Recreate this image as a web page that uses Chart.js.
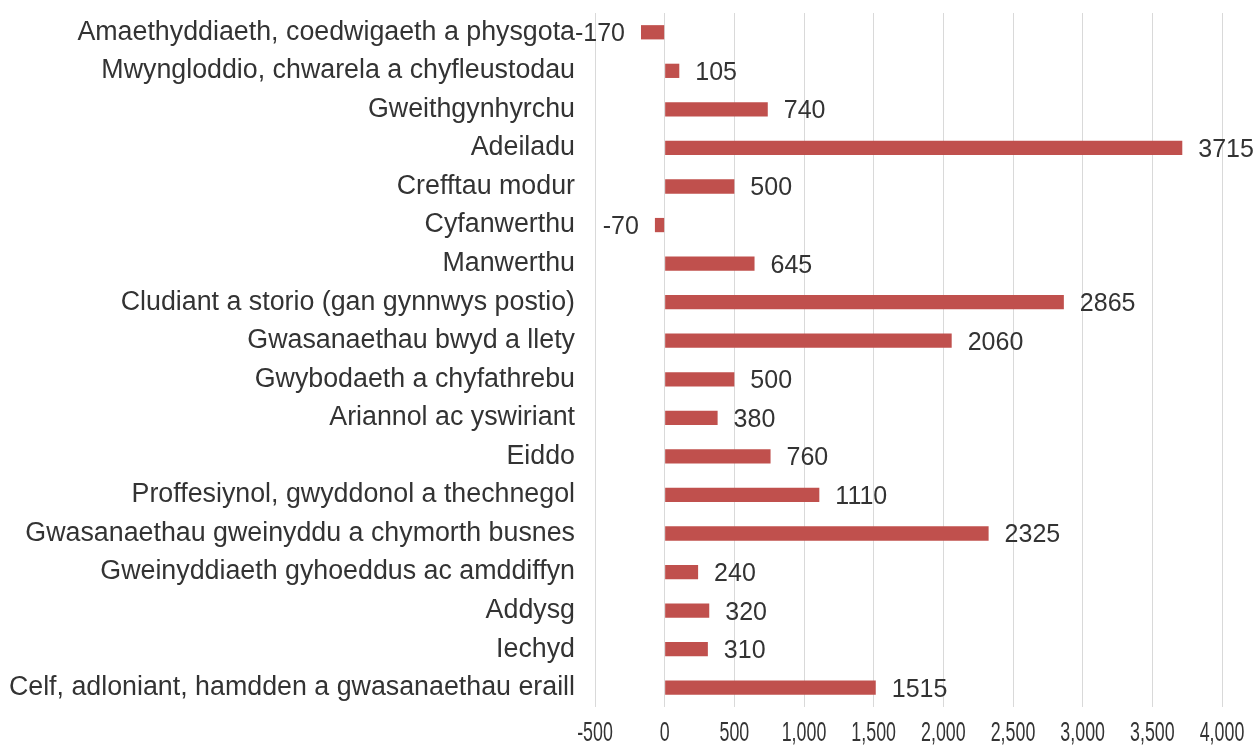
<!DOCTYPE html>
<html>
<head>
<meta charset="utf-8">
<script src="https://cdn.jsdelivr.net/npm/chart.js@4"></script>
<style>
html,body{margin:0;padding:0;background:#fff;}
#wrap{width:1259px;height:747px;}
</style>
</head>
<body>
<div id="wrap"><canvas id="c" width="1259" height="747"></canvas></div>
<script>
const categories = [
  "Amaethyddiaeth, coedwigaeth a physgota",
  "Mwyngloddio, chwarela a chyfleustodau",
  "Gweithgynhyrchu",
  "Adeiladu",
  "Crefftau modur",
  "Cyfanwerthu",
  "Manwerthu",
  "Cludiant a storio (gan gynnwys postio)",
  "Gwasanaethau bwyd a llety",
  "Gwybodaeth a chyfathrebu",
  "Ariannol ac yswiriant",
  "Eiddo",
  "Proffesiynol, gwyddonol a thechnegol",
  "Gwasanaethau gweinyddu a chymorth busnes",
  "Gweinyddiaeth gyhoeddus ac amddiffyn",
  "Addysg",
  "Iechyd",
  "Celf, adloniant, hamdden a gwasanaethau eraill"
];
const values = [-170, 105, 740, 3715, 500, -70, 645, 2865, 2060, 500, 380, 760, 1110, 2325, 240, 320, 310, 1515];
const xTickValues = [-500, 0, 500, 1000, 1500, 2000, 2500, 3000, 3500, 4000];
const xTickLabels = ["-500", "0", "500", "1,000", "1,500", "2,000", "2,500", "3,000", "3,500", "4,000"];

const textColor = '#333333';

const customText = {
  id: 'customText',
  afterDatasetsDraw(chart) {
    const ctx = chart.ctx;
    const xs = chart.scales.x;
    const meta = chart.getDatasetMeta(0);
    ctx.save();
    ctx.fillStyle = textColor;
    ctx.font = '25px "Liberation Sans", Arial, sans-serif';
    ctx.textBaseline = 'middle';
    meta.data.forEach((bar, i) => {
      const v = values[i];
      const t = String(v);
      if (v >= 0) {
        ctx.textAlign = 'left';
        ctx.fillText(t, bar.x + 16, bar.y + 2);
      } else {
        ctx.textAlign = 'right';
        ctx.fillText(t, bar.x - 16, bar.y + 2);
      }
    });
    // x tick labels (horizontally condensed)
    ctx.font = '27px "Liberation Sans", Arial, sans-serif';
    ctx.textAlign = 'center';
    const sx = 0.66;
    xTickValues.forEach((v, i) => {
      const px = xs.getPixelForValue(v);
      ctx.save();
      ctx.translate(px, 734);
      ctx.scale(sx, 1);
      ctx.fillText(xTickLabels[i], 0, 0);
      ctx.restore();
    });
    ctx.restore();
  }
};

new Chart(document.getElementById('c'), {
  type: 'bar',
  data: {
    labels: categories,
    datasets: [{
      data: values,
      backgroundColor: '#C0504D',
      borderWidth: 0,
      barPercentage: 0.37,
      categoryPercentage: 1.0
    }]
  },
  options: {
    indexAxis: 'y',
    responsive: false,
    animation: false,
    devicePixelRatio: 1,
    layout: { padding: { top: 13, right: 37, left: 0, bottom: 0 } },
    plugins: { legend: { display: false }, tooltip: { enabled: false } },
    scales: {
      x: {
        min: -500,
        max: 4000,
        ticks: { display: false, stepSize: 500 },
        grid: { color: '#D9D9D9', lineWidth: 1, drawTicks: false },
        border: { display: false },
        afterFit(s) { s.height = 40; s.paddingLeft = 0; s.paddingRight = 0; }
      },
      y: {
        ticks: {
          color: textColor,
          font: { family: '"Liberation Sans", Arial, sans-serif', size: 26.8 },
          padding: 20,
          autoSkip: false
        },
        grid: { display: false, drawTicks: false },
        border: { display: false },
        afterFit(s) { s.width = 595; s.paddingTop = 0; s.paddingBottom = 0; }
      }
    }
  },
  plugins: [customText]
});
</script>
</body>
</html>
